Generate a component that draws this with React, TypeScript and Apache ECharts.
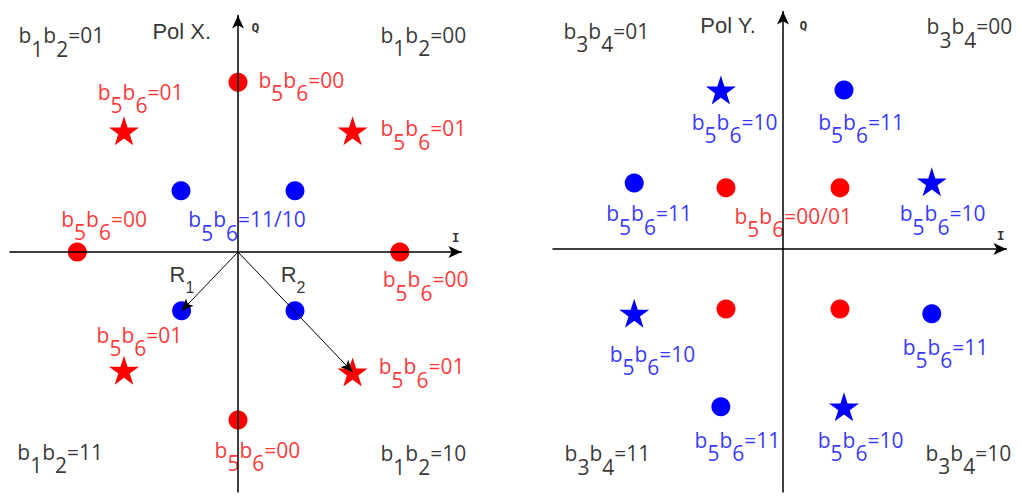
import React, { useEffect, useRef } from "react";
import * as echarts from "echarts";

// ---------- Pol X. constellation (I, Q units) ----------
const polXRedCircles = [[0, 2.83], [0, -2.8], [-2.82, 0], [2.84, 0]];
const polXRedStars = [[-2, 2.02], [2.01, 2.02], [-2, -1.97], [2.01, -2]];
const polXBlueCircles = [[-1, 1.02], [1, 1.02], [-0.99, -0.98], [1, -0.98]];
const polXVectors = [[-0.99, -0.98], [2.01, -2]]; // R1, R2 end points

// ---------- Pol Y. constellation ----------
const polYRedCircles = [[-1, 1.02], [1, 1.02], [-1, -1], [1, -1]];
const polYBlueStars = [[-1.09, 2.65], [2.61, 1.12], [-2.61, -1.07], [1.07, -2.63]];
const polYBlueCircles = [[1.07, 2.65], [-2.61, 1.1], [2.61, -1.08], [-1.09, -2.63]];

// ---------- Text annotations: [text, x, y]  ("_d" = subscript) ----------
const polXTitle = [["Pol X.", -1.51, 3.68]];
const polXAxisNames = [["Q", 0.23, 3.75], ["I", 3.74, 0.25]];
const polXVectorNames = [["R_1", -1.21, -0.38], ["R_2", 0.74, -0.38]];
const polXQuadrants = [
  ["b_1b_2=01", -3.86, 3.59],
  ["b_1b_2=00", 2.49, 3.6],
  ["b_1b_2=11", -3.88, -3.35],
  ["b_1b_2=10", 2.49, -3.38],
];
const polXRedLabels = [
  ["b_5b_6=00", 0.35, 2.85],
  ["b_5b_6=01", -2.47, 2.65],
  ["b_5b_6=01", 2.49, 2.04],
  ["b_5b_6=00", -3.11, 0.53],
  ["b_5b_6=00", 2.53, -0.48],
  ["b_5b_6=01", -2.49, -1.4],
  ["b_5b_6=01", 2.46, -1.93],
  ["b_5b_6=00", -0.42, -3.32],
];
const polXBlueLabels = [["b_5b_6=11/10", -0.88, 0.52]];

const polYTitle = [["Pol Y.", -1.46, 3.72]];
const polYAxisNames = [["Q", 0.28, 3.73], ["I", 3.74, 0.22]];
const polYQuadrants = [
  ["b_3b_4=01", -3.86, 3.61],
  ["b_3b_4=00", 2.51, 3.69],
  ["b_3b_4=11", -3.84, -3.43],
  ["b_3b_4=10", 2.49, -3.42],
];
const polYBlueLabels = [
  ["b_5b_6=10", -1.61, 2.1],
  ["b_5b_6=11", 0.61, 2.1],
  ["b_5b_6=11", -3.11, 0.57],
  ["b_5b_6=10", 2.04, 0.57],
  ["b_5b_6=10", -3.05, -1.77],
  ["b_5b_6=11", 2.09, -1.65],
  ["b_5b_6=11", -1.56, -3.2],
  ["b_5b_6=10", 0.6, -3.2],
];
const polYRedLabels = [["b_5b_6=00/01", -0.86, 0.53]];

// ---------- layout ----------
const panels = [
  { cx: 238, cy: 252, sx: 57, sy: 60, xMin: -4, xMax: 3.92, yMin: -4, yMax: 3.94 },
  { cx: 783, cy: 249, sx: 57, sy: 60, xMin: -4.035, xMax: 3.92, yMin: -4.05, yMax: 3.96 },
];

const RED = "#ff0000";
const BLUE = "#0000ff";
const BLACK = "#000000";
const BIT_FONT = "'Open Sans', 'Noto Sans', sans-serif";
const BIT_SIZE = 21;
const BIT_WEIGHT = "500";
const TITLE_FONT = "'Liberation Sans', Arial, sans-serif";
const MONO_FONT = "'DejaVu Sans Mono', monospace";

const starPath = (() => {
  let d = "";
  for (let i = 0; i < 10; i++) {
    const r = i % 2 === 0 ? 50 : 19.1;
    const a = -Math.PI / 2 + (i * Math.PI) / 5;
    d += (i === 0 ? "M" : "L") + (50 + r * Math.cos(a)).toFixed(2) + "," + (50 + r * Math.sin(a)).toFixed(2);
  }
  return "path://" + d + "Z";
})();

function richText(t: string) {
  let out = "";
  let buf = "";
  for (let i = 0; i < t.length; i++) {
    if (t[i] === "_" && i + 1 < t.length) {
      if (buf) {
        out += "{m|" + buf + "}";
        buf = "";
      }
      out += "{s|" + t[i + 1] + "}";
      i++;
    } else buf += t[i];
  }
  if (buf) out += "{m|" + buf + "}";
  return out;
}

function textSeries(
  gridIdx: number,
  items: any[],
  color: string,
  fontFamily: string,
  size: number,
  subSize: number,
  shift: number,
  fontWeight: string = "normal",
  nudge: number = 0
) {
  const pad = shift + (size - subSize) / 2;
  const H = Math.max(size, subSize + pad);
  return {
    type: "scatter",
    xAxisIndex: gridIdx,
    yAxisIndex: gridIdx,
    symbolSize: 1,
    silent: true,
    z: 3,
    itemStyle: { color: "rgba(0,0,0,0)" },
    data: items.map(([t, x, y]) => ({
      value: [x, y],
      label: {
        formatter: richText(t),
        offset: [0, (t.indexOf("_") >= 0 ? H / 2 - size / 2 : 0) + nudge],
      },
    })),
    label: {
      show: true,
      position: "right",
      distance: 0,
      align: "left",
      verticalAlign: "middle",
      rich: {
        m: { fontFamily, fontSize: size, color, verticalAlign: "top", fontWeight },
        s: { fontFamily, fontSize: subSize, color, verticalAlign: "top", fontWeight, padding: [pad, 0, 0, 0] },
      },
    },
  };
}

function bitSeries(gridIdx: number, items: any[], color: string) {
  return textSeries(gridIdx, items, color, BIT_FONT, BIT_SIZE, BIT_SIZE, 13.5, BIT_WEIGHT, -1.5);
}

function pointSeries(gridIdx: number, data: number[][], color: string, star: boolean, extra: any = {}) {
  return {
    type: "scatter",
    xAxisIndex: gridIdx,
    yAxisIndex: gridIdx,
    symbol: star ? starPath : "circle",
    symbolSize: star ? [30, 29] : 19,
    silent: true,
    z: 4,
    itemStyle: { color, opacity: 1 },
    data,
    ...extra,
  };
}

function axis(min: number, max: number) {
  return {
    type: "value",
    min,
    max,
    z: 10,
    axisLine: {
      show: true,
      onZero: true,
      symbol: ["none", "arrow"],
      symbolSize: [9, 13],
      lineStyle: { color: BLACK, width: 1.5 },
    },
    axisTick: { show: false },
    axisLabel: { show: false },
    splitLine: { show: false },
  };
}

export default function App() {
  const ref = useRef<HTMLDivElement>(null);
  useEffect(() => {
    document.body.style.margin = "0";
    if (!ref.current) return;
    const chart = echarts.init(ref.current, undefined, { renderer: "svg" });
    const option: any = {
      animation: false,
      backgroundColor: "#ffffff",
      grid: panels.map((p) => ({
        left: p.cx + p.xMin * p.sx,
        top: p.cy - p.yMax * p.sy,
        width: (p.xMax - p.xMin) * p.sx,
        height: (p.yMax - p.yMin) * p.sy,
        containLabel: false,
      })),
      xAxis: panels.map((p, i) => ({ ...axis(p.xMin, p.xMax), gridIndex: i })),
      yAxis: panels.map((p, i) => ({ ...axis(p.yMin, p.yMax), gridIndex: i })),
      series: [
        pointSeries(0, polXRedCircles, RED, false),
        pointSeries(0, polXRedStars, RED, true),
        pointSeries(0, polXBlueCircles, BLUE, false, {
          markLine: {
            silent: true,
            symbol: ["none", "arrow"],
            symbolSize: [8, 12],
            lineStyle: { color: BLACK, width: 1, type: "solid" },
            label: { show: false },
            emphasis: { disabled: true },
            data: polXVectors.map(([x, y]) => [{ coord: [0, 0] }, { coord: [x, y] }]),
          },
        }),
        pointSeries(1, polYRedCircles, RED, false),
        pointSeries(1, polYBlueStars, BLUE, true),
        pointSeries(1, polYBlueCircles, BLUE, false),

        textSeries(0, polXTitle, BLACK, TITLE_FONT, 22, 22, 0),
        textSeries(0, polXAxisNames, BLACK, MONO_FONT, 13, 13, 0, "bold"),
        textSeries(0, polXVectorNames, BLACK, TITLE_FONT, 22, 16, 12.5),
        bitSeries(0, polXQuadrants, BLACK),
        bitSeries(0, polXRedLabels, RED),
        bitSeries(0, polXBlueLabels, BLUE),

        textSeries(1, polYTitle, BLACK, TITLE_FONT, 22, 22, 0),
        textSeries(1, polYAxisNames, BLACK, MONO_FONT, 13, 13, 0, "bold"),
        bitSeries(1, polYQuadrants, BLACK),
        bitSeries(1, polYBlueLabels, BLUE),
        bitSeries(1, polYRedLabels, RED),
      ],
    };
    chart.setOption(option);
    return () => chart.dispose();
  }, []);
  return (
    <div
      ref={ref}
      style={{ width: 1020, height: 498, position: "fixed", left: 0, top: 0, background: "#fff" }}
    />
  );
}
